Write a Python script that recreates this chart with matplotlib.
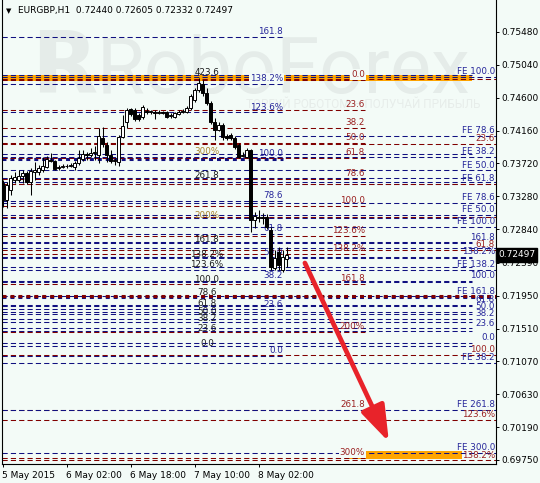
import matplotlib
matplotlib.use("Agg")
import matplotlib.pyplot as plt
import matplotlib.transforms as mtransforms
from matplotlib.patches import Rectangle, FancyArrowPatch

plt.rcParams['font.family'] = ['DejaVu Sans']

# ---------------- data ----------------
title_text = "EURGBP,H1  0.72440 0.72605 0.72332 0.72497"

opens = [0.73458, 0.73231, 0.73365, 0.73498, 0.73498, 0.73552, 0.73592, 0.73472, 0.73606, 0.73606,
         0.73632, 0.73673, 0.73766, 0.73753, 0.73659, 0.73673, 0.73686, 0.73686, 0.73673, 0.73726,
         0.73780, 0.73847, 0.73833, 0.73860, 0.73833, 0.74061, 0.73967, 0.73833, 0.73753, 0.73739,
         0.74074, 0.74275, 0.74449, 0.74436, 0.74369, 0.74342, 0.74422, 0.74409, 0.74409, 0.74396,
         0.74409, 0.74409, 0.74355, 0.74342, 0.74382, 0.74409, 0.74409, 0.74462, 0.74570, 0.74703,
         0.74784, 0.74663, 0.74529, 0.74275, 0.74168, 0.74235, 0.74088, 0.74101, 0.74061, 0.73967,
         0.73820, 0.73806, 0.73900, 0.72963, 0.73003, 0.72990, 0.73003, 0.72829, 0.72320, 0.72535,
         0.72293, 0.72440]
highs = [0.73498, 0.73472, 0.73565, 0.73606, 0.73632, 0.73632, 0.73619, 0.73659, 0.73739, 0.73699,
         0.73806, 0.73820, 0.73860, 0.73766, 0.73699, 0.73713, 0.73713, 0.73726, 0.73753, 0.73900,
         0.73900, 0.73873, 0.73927, 0.73954, 0.74195, 0.74208, 0.74007, 0.73900, 0.73793, 0.74101,
         0.74369, 0.74462, 0.74462, 0.74462, 0.74396, 0.74503, 0.74462, 0.74436, 0.74436, 0.74436,
         0.74422, 0.74422, 0.74396, 0.74409, 0.74436, 0.74449, 0.74489, 0.74650, 0.74730, 0.74864,
         0.74837, 0.74730, 0.74556, 0.74329, 0.74275, 0.74262, 0.74114, 0.74128, 0.74088, 0.73994,
         0.73873, 0.73927, 0.73913, 0.73070, 0.73097, 0.73057, 0.73043, 0.72869, 0.72561, 0.72601,
         0.72561, 0.72605]
lows = [0.73137, 0.73124, 0.73298, 0.73458, 0.73472, 0.73458, 0.73445, 0.73298, 0.73498, 0.73565,
        0.73606, 0.73659, 0.73739, 0.73632, 0.73632, 0.73659, 0.73659, 0.73673, 0.73632, 0.73699,
        0.73753, 0.73766, 0.73806, 0.73766, 0.73726, 0.73940, 0.73739, 0.73726, 0.73699, 0.73686,
        0.74061, 0.74195, 0.74355, 0.74288, 0.74288, 0.74315, 0.74382, 0.74382, 0.74315, 0.74382,
        0.74382, 0.74329, 0.74329, 0.74329, 0.74369, 0.74396, 0.74396, 0.74436, 0.74543, 0.74677,
        0.74623, 0.74503, 0.74248, 0.74034, 0.74155, 0.74034, 0.74034, 0.74034, 0.73913, 0.73793,
        0.73806, 0.73793, 0.72802, 0.72856, 0.72936, 0.72909, 0.72842, 0.72293, 0.72293, 0.72293,
        0.72267, 0.72332]
closes = [0.73231, 0.73432, 0.73525, 0.73539, 0.73552, 0.73592, 0.73472, 0.73619, 0.73632, 0.73659,
          0.73686, 0.73780, 0.73753, 0.73646, 0.73673, 0.73686, 0.73690, 0.73699, 0.73726, 0.73793,
          0.73847, 0.73833, 0.73860, 0.73873, 0.74088, 0.73980, 0.73833, 0.73753, 0.73766, 0.74074,
          0.74221, 0.74436, 0.74382, 0.74315, 0.74315, 0.74476, 0.74409, 0.74422, 0.74396, 0.74409,
          0.74396, 0.74342, 0.74369, 0.74396, 0.74409, 0.74422, 0.74462, 0.74623, 0.74703, 0.74797,
          0.74663, 0.74529, 0.74275, 0.74168, 0.74235, 0.74074, 0.74061, 0.74061, 0.73940, 0.73806,
          0.73833, 0.73900, 0.72963, 0.73017, 0.72990, 0.73003, 0.72869, 0.72334, 0.72454, 0.72360,
          0.72467, 0.72497]

x_tick_bars = [0, 16, 32, 48, 64]
x_tick_labels = ["5 May 2015", "6 May 02:00", "6 May 18:00", "7 May 10:00", "8 May 02:00"]
y_ticks = [0.75480, 0.75040, 0.74600, 0.74160, 0.73720, 0.73280, 0.72840,
           0.72390, 0.71950, 0.71510, 0.71070, 0.70630, 0.70190, 0.69750]
last_price = 0.72497

# Fibonacci tools: anchor prices (0% level, 100% level), ratios, labels
fib1_anchor = [0.71276, 0.72133]
fib1_ratios = [0, 23.6, 38.2, 50, 61.8, 78.6, 100, 123.6, 138.2, 161.8, 200, 261.8, 300, 423.6]
fib1_labels = ["0.0", "23.6", "38.2", "50.0", "61.8", "78.6", "100.0", "123.6%", "138.2%",
               "161.8", "200%", "261.8", "300%", "423.6"]

fib2_anchor = [0.71142, 0.73780]
fib2_ratios = [0, 23.6, 38.2, 50, 61.8, 78.6, 100, 123.6, 138.2, 161.8]
fib2_labels = ["0.0", "23.6", "38.2", "50.0", "61.8", "78.6", "100.0", "123.6%", "138.2%", "161.8"]

fib3_anchor = [0.74837, 0.73150]
fib3_ratios = [0, 23.6, 38.2, 50, 61.8, 78.6, 100, 123.6, 138.2, 161.8, 200, 261.8, 300]
fib3_labels = ["0.0", "23.6", "38.2", "50.0", "61.8", "78.6", "100.0", "123.6%", "138.2%",
               "161.8", "200%", "261.8", "300%"]

fe1_anchor = [0.74382, 0.72869]
fe1_ratios = [38.2, 50, 61.8, 78.6, 100, 138.2, 161.8, 261.8, 300]
fe1_labels = ["FE 38.2", "FE 50.0", "FE 61.8", "FE 78.6", "FE 100.0", "FE 138.2",
              "FE 161.8", "FE 261.8", "FE 300.0"]

fe2_anchor = [0.71182, 0.74878]
fe2_ratios = [38.2, 50, 61.8, 78.6, 100]
fe2_labels = ["", "FE 50.0", "", "FE 78.6", "FE 100.0"]

fib6_anchor = [0.71316, 0.72146]
fib6_ratios = [0, 23.6, 38.2, 50, 61.8, 100, 138.2, 161.8]
fib6_labels = ["0.0", "23.6", "38.2", "50.0", "61.8", "100.0", "138.2%", "161.8"]

fib7_anchor = [0.74851, 0.71156]
fib7_ratios = [0, 23.6, 38.2, 50, 61.8, 78.6, 100, 123.6, 138.2]
fib7_labels = ["", "23.6", "", "", "61.8", "", "100.0", "123.6%", "138.2%"]

fe3_levels = [0.71048]
fe3_labels = ["FE 38.2"]

zone_top = [0.74824, 0.74904]
zone_bottom = [0.69763, 0.69870]
arrow_from = [75.6, 0.72387]
arrow_to = [96.6, 0.69991]

watermark = "RoboForex"
slogan = "ТОРГУЙ РОБОТОМ — ПОЛУЧАЙ ПРИБЫЛЬ"

# ---------------- figure ----------------
W, H = 540, 483
bg = '#f3fbf7'
NAVY = '#101080'
MAROON = '#800000'
NAVY_T = '#26269a'
MAROON_T = '#9a2020'
GOLD_T = '#a8822c'

fig = plt.figure(figsize=(W / 100, H / 100), dpi=100)
fig.patch.set_facecolor(bg)
ax = fig.add_axes([2 / W, (H - 464) / H, 494 / W, 464 / H])
ax.set_facecolor(bg)
ax.set_xlim(-0.125, 123.375)
ax.set_ylim(0.69696, 0.75908)

# watermark
ax.text(0.058, 0.80, "R", transform=ax.transAxes, fontsize=62, fontweight='bold',
        family='DejaVu Sans', color='#e5ece9', va='baseline', ha='left', zorder=0.5)
ax.text(0.192, 0.80, watermark, transform=ax.transAxes, fontsize=56, family='Roboto',
        color='#e5ece9', va='baseline', ha='left', zorder=0.5)
ax.text(0.968, 0.774, slogan, transform=ax.transAxes, fontsize=8.5, family='Roboto',
        color='#e7edea', va='center', ha='right', zorder=0.5)

# target zones
ax.add_patch(Rectangle((-0.125, zone_top[0]), 117.5, zone_top[1] - zone_top[0],
                       facecolor='#ffa500', edgecolor='none', zorder=1))
ax.add_patch(Rectangle((86.1, zone_bottom[0]), 28.8, zone_bottom[1] - zone_bottom[0],
                       facecolor='#ffa500', edgecolor='none', zorder=1))

X0 = -0.125


def draw_fib(anchor, ratios, labels, color, tcolor, x_end, label_x, mode,
             thick=(), boxed=(), gold=()):
    p0, p100 = anchor
    for r, lab in zip(ratios, labels):
        price = p0 + (p100 - p0) * r / 100.0
        if r in thick:
            ax.plot([X0, x_end], [price, price], color=color, lw=2.2,
                    linestyle=(0, (1.3, 1.3)), zorder=2, dash_capstyle='butt')
        else:
            ax.plot([X0, x_end], [price, price], color=color, lw=0.75,
                    linestyle=(0, (5, 3)), zorder=2)
        if lab:
            kw = dict(fontsize=6.3, color=(GOLD_T if r in gold else tcolor), zorder=3,
                      textcoords='offset points')
            if r in boxed:
                kw['bbox'] = dict(boxstyle='square,pad=0.08', fc=bg, ec='none')
            if mode == 'right':
                ax.annotate(lab, (label_x, price), xytext=(0, 0.6), ha='right',
                            va='bottom', **kw)
            else:
                ax.annotate(lab, (label_x, price), xytext=(0, 2), ha='center',
                            va='center', **kw)


draw_fib(fib1_anchor, fib1_ratios, fib1_labels, NAVY, '#1a1a1a', 117.4, 51.1, 'center',
         gold=(200, 300))
draw_fib(fib2_anchor, fib2_ratios, fib2_labels, NAVY, NAVY_T, 70.1, 70.1, 'right',
         thick=(100,), boxed=(138.2,))
draw_fib(fib3_anchor, fib3_ratios, fib3_labels, MAROON, MAROON_T, 90.6, 90.6, 'right',
         boxed=(0, 300))
draw_fib(fe1_anchor, fe1_ratios, fe1_labels, NAVY, NAVY_T, 123.4, 123.1, 'right',
         thick=(161.8,))
draw_fib(fe2_anchor, fe2_ratios, fe2_labels, NAVY, NAVY_T, 123.4, 123.1, 'right')
draw_fib(fib6_anchor, fib6_ratios, fib6_labels, NAVY, NAVY_T, 117.4, 123.1, 'right')
draw_fib(fib7_anchor, fib7_ratios, fib7_labels, MAROON, MAROON_T, 123.4, 123.1, 'right',
         thick=(78.6,))
for lvl, lab in zip(fe3_levels, fe3_labels):
    ax.plot([X0, 123.4], [lvl, lvl], color=NAVY, lw=0.75, linestyle=(0, (5, 3)), zorder=2)
    ax.annotate(lab, (123.1, lvl), xytext=(0, 0.6), textcoords='offset points',
                ha='right', va='bottom', fontsize=6.3, color=NAVY_T, zorder=3)

# candles
for i, (o, h, l, c) in enumerate(zip(opens, highs, lows, closes)):
    ax.plot([i, i], [l, h], color='black', lw=0.75, zorder=4, solid_capstyle='butt')
    bottom = min(o, c)
    height = max(abs(c - o), 1e-7)
    face = 'white' if c >= o else 'black'
    ax.add_patch(Rectangle((i - 0.3, bottom), 0.6, height, facecolor=face,
                           edgecolor='black', lw=0.7, zorder=5))

# arrow
arr = FancyArrowPatch(tuple(arrow_from), tuple(arrow_to),
                      arrowstyle='-|>,head_length=2.2,head_width=0.75',
                      mutation_scale=10, color='#e8232a', lw=3.4, zorder=6,
                      shrinkA=0, shrinkB=0)
ax.add_patch(arr)

# axes styling
ax.spines['top'].set_visible(False)
for s in ['left', 'right', 'bottom']:
    ax.spines[s].set_color('black')
    ax.spines[s].set_linewidth(0.8)

ax.yaxis.tick_right()
ax.set_yticks(y_ticks)
ax.set_yticklabels([f"{v:.5f}" for v in y_ticks])
ax.tick_params(axis='y', direction='out', length=2.5, width=0.7, pad=1.5,
               labelsize=6.5, colors='black')
ax.set_xticks(x_tick_bars)
ax.set_xticklabels(x_tick_labels, ha='left')
ax.tick_params(axis='x', direction='out', length=2.5, width=0.7, pad=2.5,
               labelsize=6.5, colors='black')

# current price box
trans = mtransforms.blended_transform_factory(ax.transAxes, ax.transData)
ax.text(1.004, last_price, "0.72497", transform=trans, ha='left', va='center',
        fontsize=6.5, color='white', zorder=10, clip_on=False,
        bbox=dict(boxstyle='square,pad=0.25', fc='black', ec='black'))

# title
fig.text(6 / W, 1 - 11 / H, "\u25bc", fontsize=5, color='black', va='center', ha='left')
fig.text(18 / W, 1 - 11 / H, title_text, fontsize=6.5, color='black', va='center', ha='left')

fig.savefig("out.png", dpi=100, facecolor=bg)
